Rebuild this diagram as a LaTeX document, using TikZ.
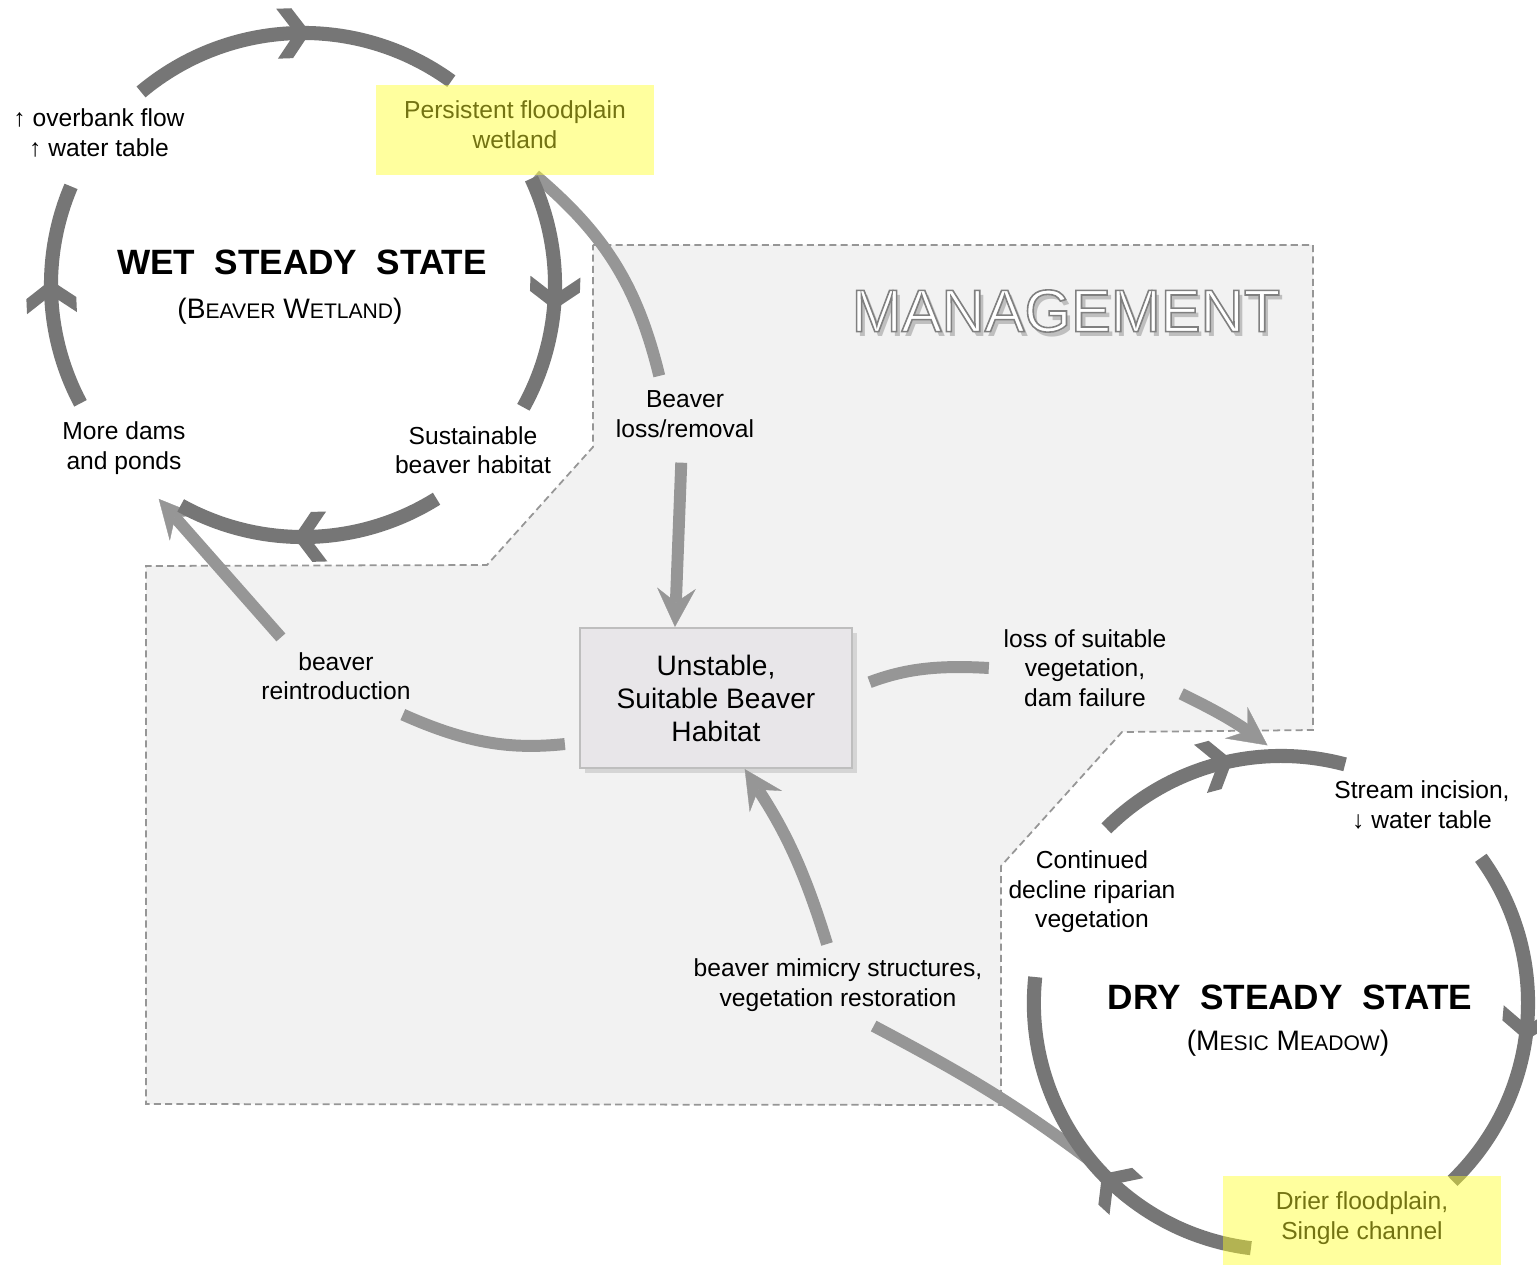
\documentclass[tikz,border=0pt]{standalone}
\usepackage{fontspec}
\setmainfont{Liberation Sans}
\usetikzlibrary{arrows.meta,decorations.markings,shadows,calc}
\definecolor{cyclegray}{RGB}{118,118,118}
\definecolor{mgmtgray}{RGB}{150,150,150}
\definecolor{mgmtfill}{RGB}{242,242,242}
\definecolor{boxfill}{RGB}{232,230,233}
\definecolor{boxline}{RGB}{190,190,190}
\definecolor{hiyellow}{RGB}{255,255,40}
\newcommand{\smc}[1]{{\fontsize{6}{8}\selectfont #1}}
\newcommand{\outlined}[1]{\special{pdf:literal direct 2 Tr 0.45 w 0.5 G}#1\special{pdf:literal direct 0 Tr}}
\begin{document}
\begin{tikzpicture}[x=0.01cm, y=0.01cm,
	cyc/.style={line width=4pt, color=cyclegray, postaction={decorate},
		decoration={markings, mark=at position #1 with {\fill (4.5pt,0) -- (-0.6pt,7.1pt) -- (-4.9pt,7.1pt) -- (0.2pt,0) -- (-4.9pt,-7.1pt) -- (-0.6pt,-7.1pt) -- cycle;}}},
	cyc/.default=0.5,
	mgmt/.style={line width=3.4pt, color=mgmtgray},
	endtip/.style={-{Stealth[length=11pt, width=11pt, inset=4pt, line width=0.1pt]}},
	lbl/.style={align=center, inner sep=4pt, font=\fontsize{7}{8.4}\selectfont},
	hibox/.style={lbl, minimum width=2.76cm, minimum height=0.89cm, text depth=3pt},
	titletext/.style={font=\bfseries\fontsize{10}{12}\selectfont},
	subtext/.style={font=\fontsize{8}{10}\selectfont},
	habitatbox/.style={align=center, font=\fontsize{8}{9.4}\selectfont, minimum width=2.72cm, minimum height=1.4cm,
		fill=boxfill, draw=boxline, line width=0.6pt, drop shadow={shadow xshift=1.5pt, shadow yshift=-1.5pt, opacity=0.25}},
	mgmttext/.style={font=\fontsize{17}{20}\selectfont}]
	\fill[white] (0,0) rectangle (1537,-1264);
	\useasboundingbox (0,0) rectangle (1537,-1264);
	\draw[mgmtgray, fill=mgmtfill, line width=0.5pt, dash pattern=on 2pt off 1.2pt] (593,-245) -- (1313,-245) -- (1313,-730) -- (1122,-732) -- (1001,-866) -- (1001,-1105) -- (146,-1104) -- (146,-566) -- (487,-565) -- (593,-447) -- cycle;

	\coordinate (mgmtPos) at (1066,-311);
	\node[mgmttext, text=black!25] at ($(mgmtPos)+(4,-5)$) {MANAGEMENT};
	\node[mgmttext, text=white] (mgmtTitle) at (mgmtPos) {\outlined{MANAGEMENT}};

	\coordinate (wet) at (303,-285);
	\coordinate (dry) at (1281,-1003);
	\coordinate (wetIn) at ($(wet)+(-124:258)$);
	\coordinate (dryIn) at ($(dry)+(93:258)$);
	\coordinate (dryOut) at ($(dry)+(-140:247)$);

	\node[titletext] (wetTitle) at (302,-262) {WET\hspace{.55em}STEADY\hspace{.55em}STATE};
	\node[subtext] (wetSub) at (290,-311) {(B\smc{EAVER} W\smc{ETLAND})};
	\node[titletext] (dryTitle) at (1290,-997) {DRY\hspace{.55em}STEADY\hspace{.55em}STATE};
	\node[subtext] (drySub) at (1288,-1043) {(M\smc{ESIC} M\smc{EADOW})};

	\node[lbl] (overbank) at (99,-133) {↑ overbank flow\\↑ water table};
	\node[hibox] (persist) at (515,-130) {Persistent floodplain\\wetland};
	\node[lbl] (moreLbl) at (124,-448) {More dams\\and ponds};
	\node[lbl] (sustLbl) at (473,-450) {Sustainable\\beaver habitat};
	\node[lbl] (lossLbl) at (685,-414) {Beaver\\loss/removal};
	\node[lbl] (reintroLbl) at (336,-676) {beaver\\reintroduction};
	\node[habitatbox] (habitat) at (716,-698) {Unstable,\\Suitable Beaver\\Habitat};
	\node[lbl] (suitLbl) at (1085,-668) {loss of suitable\\vegetation,\\dam failure};
	\node[lbl] (streamLbl) at (1422,-805) {Stream incision,\\↓ water table};
	\node[lbl] (contLbl) at (1092,-892) {Continued\\decline riparian\\vegetation};
	\node[lbl] (mimicLbl) at (838,-985) {beaver mimicry structures,\\vegetation restoration};
	\node[hibox] (drier) at (1362,-1221) {Drier floodplain,\\Single channel};

	\draw[mgmt] (persist.294) to[bend left=18] (lossLbl.124);
	\draw[mgmt, endtip, shorten <=3pt] (lossLbl.265) -- (habitat.120);
	\draw[mgmt, shorten <=4pt] (habitat.198) to[bend left=15] (reintroLbl.330);
	\draw[mgmt, endtip] (reintroLbl.145) -- (wetIn);
	\draw[mgmt, shorten <=5pt] (habitat.4) to[bend left=12] (suitLbl.west);
	\draw[mgmt, endtip] (suitLbl.345) to[bend left=5] (dryIn);
	\draw[mgmt] (dryOut) to[out=143, in=-28] (mimicLbl.311);
	\draw[mgmt, endtip] (mimicLbl.105) to[bend right=8] (habitat.292);

	\draw[cyc] ($(wet)+(130:252)$) arc[start angle=130, end angle=54, radius=2.52cm];
	\draw[cyc] ($(wet)+(25:252)$) arc[start angle=25, end angle=-29, radius=2.52cm];
	\draw[cyc] ($(wet)+(-58:252)$) arc[start angle=-58, end angle=-119, radius=2.52cm];
	\draw[cyc] ($(wet)+(-152:252)$) arc[start angle=-152, end angle=-203, radius=2.52cm];
	\draw[cyc] ($(dry)+(135:247)$) arc[start angle=135, end angle=75, radius=2.47cm];
	\draw[cyc] ($(dry)+(36:247)$) arc[start angle=36, end angle=-46, radius=2.47cm];
	\draw[cyc=0.4] ($(dry)+(-97:247)$) arc[start angle=-97, end angle=-186, radius=2.47cm];

	\fill[hiyellow, fill opacity=0.45] (persist.south west) rectangle (persist.north east);
	\fill[hiyellow, fill opacity=0.45] (drier.south west) rectangle (drier.north east);
\end{tikzpicture}
\end{document}
